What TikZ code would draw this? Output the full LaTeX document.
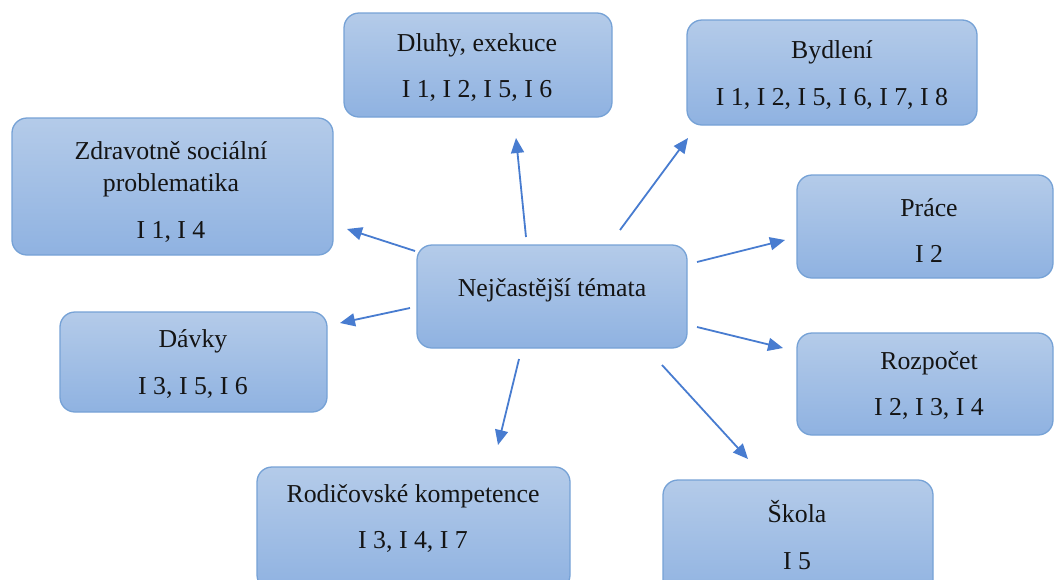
\documentclass[tikz,border=0pt]{standalone}
\usepackage{fontspec}
\setmainfont{Liberation Serif}
\newfontfamily\topicface{Liberation Serif}
\usetikzlibrary{arrows.meta,shadings}

\definecolor{boxtop}{RGB}{180,203,233}
\definecolor{boxbot}{RGB}{143,178,225}
\definecolor{boxrim}{RGB}{118,162,214}
\definecolor{arrowblue}{RGB}{72,124,208}
\definecolor{ink}{RGB}{20,20,20}

\tikzset{
  topic/.style={draw=boxrim, line width=1.3pt, rounded corners=15pt,
    top color=boxtop, bottom color=boxbot, inner sep=0pt},
  topictext/.style={text=ink, align=center, inner sep=0pt,
    font=\topicface\fontsize{25.8}{32}\selectfont},
  link/.style={draw=arrowblue, line width=1.8pt,
    -{Triangle[length=15pt,width=13pt]}}
}

\begin{document}
\begin{tikzpicture}[x=1pt,y=-1pt]
  \useasboundingbox (0,0) rectangle (1054,579);
  \clip (0,0) rectangle (1054,579);

  % boxes
  \node[topic, minimum width=268pt, minimum height=104pt] (dluhy)    at (478,65)    {};
  \node[topic, minimum width=290pt, minimum height=105pt] (bydleni)  at (832,72.5)  {};
  \node[topic, minimum width=321pt, minimum height=137pt] (zdrav)    at (172.5,186.5) {};
  \node[topic, minimum width=256pt, minimum height=103pt] (prace)    at (925,226.5) {};
  \node[topic, minimum width=270pt, minimum height=103pt] (hub)      at (552,296.5) {};
  \node[topic, minimum width=267pt, minimum height=100pt] (davky)    at (193.5,362) {};
  \node[topic, minimum width=256pt, minimum height=102pt] (rozpocet) at (925,384)   {};
  \node[topic, minimum width=313pt, minimum height=123pt] (rodic)    at (413.5,528.5) {};
  \node[topic, minimum width=270pt, minimum height=120pt] (skola)    at (798,540)   {};

  % texts
  \node[topictext] (dluhy-t)    at (477,67.5)  {Dluhy, exekuce\\[14.5pt]I 1, I 2, I 5, I 6};
  \node[topictext] (bydleni-t)  at (832,75)    {Bydlení\\[14.5pt]I 1, I 2, I 5, I 6, I 7, I 8};
  \node[topictext] (zdrav-t)    at (171,192)   {Zdravotně sociální\\problematika\\[14.5pt]I 1, I 4};
  \node[topictext] (prace-t)    at (929,230.5) {Práce\\[14.5pt]I 2};
  \node[topictext] (hub-t)      at (552,290)   {Nejčastější témata};
  \node[topictext] (davky-t)    at (193,364)   {Dávky\\[14.5pt]I 3, I 5, I 6};
  \node[topictext] (rozpocet-t) at (929,385.5) {Rozpočet\\[14.5pt]I 2, I 3, I 4};
  \node[topictext] (rodic-t)    at (413,518.5) {Rodičovské kompetence\\[14.5pt]I 3, I 4, I 7};
  \node[topictext] (skola-t)    at (797,535)   {Škola\\[14.5pt]I 5};

  % arrow end points
  \coordinate (s1) at (526,237); \coordinate (e1) at (516,138);
  \coordinate (s2) at (620,230); \coordinate (e2) at (688,138);
  \coordinate (s3) at (415,251); \coordinate (e3) at (347,229);
  \coordinate (s4) at (697,262); \coordinate (e4) at (785,240);
  \coordinate (s5) at (410,308); \coordinate (e5) at (340,323);
  \coordinate (s6) at (697,327); \coordinate (e6) at (783,348);
  \coordinate (s7) at (519,359); \coordinate (e7) at (498,445);
  \coordinate (s8) at (662,365); \coordinate (e8) at (748,459);

  \foreach \i in {1,...,8} \draw[link] (s\i) -- (e\i);
\end{tikzpicture}
\end{document}
